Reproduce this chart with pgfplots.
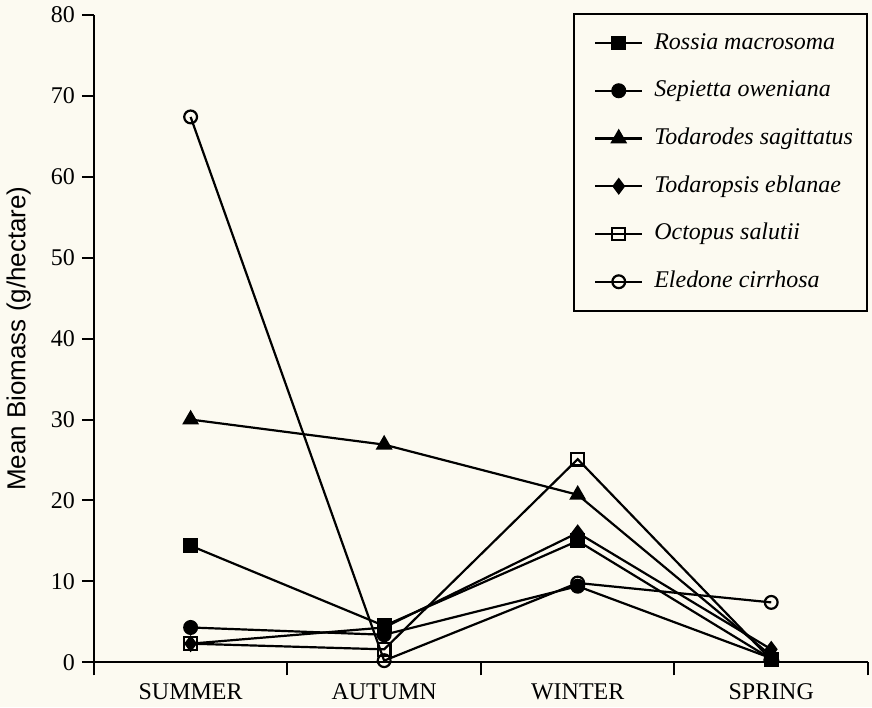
\documentclass[border=0pt]{standalone}
\usepackage{fontspec}
\setmainfont{Liberation Serif}
\newfontfamily\sansf{Liberation Sans}
\usepackage{pgfplots}
\pgfplotsset{compat=1.18}
\usetikzlibrary{backgrounds}
\definecolor{bg}{HTML}{FCFAF1}

\begin{document}
\begin{tikzpicture}[show background rectangle, background rectangle/.style={fill=bg, draw=none}, inner frame sep=0pt]
\begin{axis}[
  width=387.5pt, height=324pt, scale only axis,
  xmin=-0.5, xmax=3.5, ymin=0, ymax=80,
  axis lines=left, axis line style={-, line width=1.1pt},
  xtick={0,1,2,3}, xticklabels={SUMMER,AUTUMN,WINTER,SPRING},
  minor xtick={-0.5,0.5,1.5,2.5,3.5},
  ytick={0,10,...,80},
  tick align=outside, major tick length=6pt, minor tick length=6.5pt,
  tick style={line width=1pt, black},
  major x tick style={draw=none},
  /pgf/number format/assume math mode=true,
  ticklabel style={font=\fontsize{12}{14}\selectfont},
  xticklabel style={yshift=-1pt},
  ylabel={Mean Biomass (g/hectare)},
  ylabel style={font=\sansf\fontsize{13}{15}\selectfont, at={(axis description cs:-0.097,0.5)}, anchor=center},
  clip=false,
  legend cell align=left,
  legend image code/.code={\path (-5pt,0pt) (27pt,0pt); \draw[mark repeat=2,mark phase=2,#1] plot coordinates {(0pt,0pt) (11.75pt,0pt) (23.5pt,0pt)};},
  legend style={at={(rel axis cs:1,1.003)}, anchor=north east, draw=black, line width=1pt, fill=bg,
    inner xsep=5pt, inner ysep=6.5pt, row sep=7.9pt,
    nodes={text height=9pt, text depth=3pt, inner sep=2pt},
    font=\itshape\fontsize{12}{14}\selectfont},
  ser/.style={black, solid, line width=1.1pt, mark options={solid, line width=0.8pt}, mark size=3.2pt},
]
\addplot[ser, mark=square*, mark options={fill=black}] coordinates {(0,14.4) (1,4.5) (2,15.0) (3,0.4)};
\addlegendentry{Rossia macrosoma}
\addplot[ser, mark=*, mark options={fill=black}] coordinates {(0,4.3) (1,3.4) (2,9.4) (3,0.5)};
\addlegendentry{Sepietta oweniana}
\addplot[ser, mark=triangle*, mark size=3.8pt, mark options={fill=black}] coordinates {(0,30.0) (1,26.9) (2,20.7) (3,0.8)};
\addlegendentry{Todarodes sagittatus}
\addplot[ser, mark=diamond*, mark size=3.4pt, mark options={fill=black}] coordinates {(0,2.3) (1,4.3) (2,16.0) (3,1.6)};
\addlegendentry{Todaropsis eblanae}
\addplot[ser, mark=square, mark options={fill=none}] coordinates {(0,2.3) (1,1.6) (2,25.1) (3,0.3)};
\addlegendentry{Octopus salutii}
\addplot[ser, mark=o, mark options={fill=none}] coordinates {(0,67.4) (1,0.2) (2,9.8) (3,7.4)};
\addlegendentry{Eledone cirrhosa}
\end{axis}
\path (current axis.south west) ++(-46.5pt,-22.5pt) rectangle ([xshift=2pt,yshift=7.5pt]current axis.north east);
\end{tikzpicture}
\end{document}
